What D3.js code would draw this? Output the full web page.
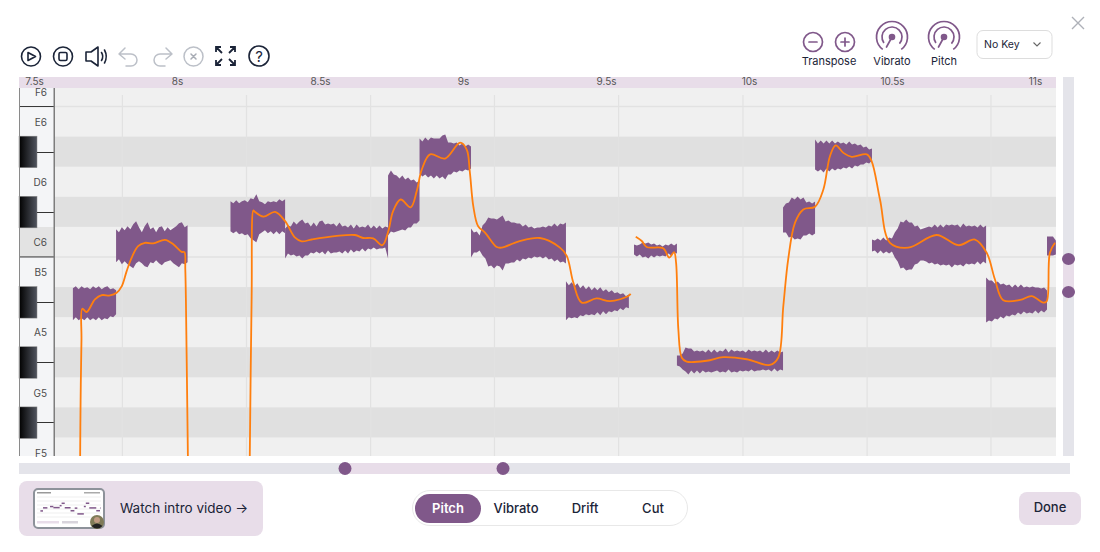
<!DOCTYPE html>
<html><head><meta charset="utf-8">
<style>html,body{margin:0;padding:0;background:#fff}svg{display:block}text{font-family:Inter,"Noto Sans",sans-serif}</style>
<script src="https://cdn.jsdelivr.net/npm/d3@7"></script></head><body>
<svg id="c" width="1100" height="552"></svg>
<script>
// ---------- DATA ----------
const timeTicks = [7.5,8,8.5,9,9.5,10,10.5,11];
const beatGrid = [7.809,8.243,8.677,9.110,9.544,9.979,10.413,10.846];
const blackKeys = [87,85,82,80,78];
const noteLabels = [[89,"F6"],[88,"E6"],[86,"D6"],[84,"C6"],[83,"B5"],[81,"A5"],[79,"G5"],[77,"F5"]];
const rowLines = [88.5,83.5];

const noteStarts = [7.636,7.787,8.187,8.378,8.738,8.848,9.028,9.360,9.598,9.748,10.119,10.231,10.430,10.829,11.042];
const noteEnds   = [7.787,8.037,8.378,8.738,8.848,9.028,9.360,9.580,9.748,10.119,10.231,10.430,10.829,11.042,11.073];
const noteCentres= [81.96,83.92,84.75,84.08,85.31,86.84,83.98,82.06,83.75,80.06,84.78,86.87,83.88,82.09,83.85];
// waveform envelope, percent of full scale, above and below the note centre
const envelopeUp = [
[15,17,14,17,15,16,14,17,15,17,14,16,17,14,15,13],
[15,12,17,14,18,15,20,23,17,12,18,22,15,17,12,17,18,13,17,14,16,18,21,22,17,19],
[18,16,19,16,18,19,17,21,20,25,18,17,15,18,17,18,17,20,18,20],
[11,14,13,18,15,18,20,16,17,13,17,13,18,19,15,16,15,16,13,17,13,14,12,15,11,15,12,13,12,15,11,14,11,14,11,13,12],
[27,32,28,27,24,27,23,25,22,23,20,22],
[18,15,19,16,19,18,18,18,21,22,14,14,13,14,11,13,10,12,10],
[14,10,11,7,17,20,25,24,24,23,25,27,21,22,20,20,19,19,16,18,15,16,14,15,15,16,15,17,16,19,16,19,18,20],
[19,15,18,14,17,12,15,11,14,10,13,10,13,9,11,8,10,7,8,6,7,4,6],
[5,4,5,7,6,7,5,6,4,5,3,5,4,6,4,6],
[5,5,7,13,12,12,9,10,9,10,8,11,8,11,8,10,9,12,8,11,9,10,9,10,8,11,9,10,9,10,8,11,8,10,8,10,8,9],
[11,15,16,21,19,22,19,21,16,17,15,17],
[16,12,15,12,15,12,15,12,14,12,13,11,14,11,12,10,11,8,9,6,7],
[6,5,7,5,8,5,8,7,13,17,24,23,26,23,23,19,20,16,17,18,19,18,21,18,21,18,21,20,21,20,21,18,22,19,20,19,20,18,21,18,20],
[22,19,19,16,18,15,16,14,15,12,15,12,15,12,13,12,13,12,12,11,12,9],
[10,10,10,6]];
const envelopeDown = [
[17,14,17,15,17,14,17,15,17,14,17,15,16,13,14,11],
[18,15,20,17,20,22,24,19,17,19,22,23,18,19,16,19,21,18,17,16,19,21,23,19,20,18],
[12,14,12,15,14,16,15,19,21,23,15,13,11,14,12,15,12,15,12,14],
[19,14,16,15,17,16,19,16,16,13,14,12,14,12,15,11,14,13,13,12,14,11,14,10,13,11,12,9,12,9,10,8,10,9,9,8,19],
[33,29,30,29,28,27,28,25,25,21,21,18],
[17,20,18,21,19,22,19,22,20,23,18,18,15,16,14,15,13,14,12],
[15,10,10,8,13,16,24,23,26,23,24,28,21,21,20,20,17,19,16,17,15,16,14,15,14,16,14,17,16,19,17,20,19,21],
[20,17,18,17,18,15,16,14,15,14,15,12,15,11,14,11,12,10,11,8,10,7,8],
[5,7,5,8,7,9,6,8,6,7,6,7,4,6,3,4],
[5,6,9,11,14,10,13,10,13,10,12,11,12,11,10,12,11,12,9,12,11,12,10,11,10,11,9,11,10,10,9,10,9,11,8,11,9,10],
[14,14,19,18,21,20,21,17,17,15,17,15],
[14,16,14,17,13,16,13,15,13,14,12,13,11,13,10,11,9,9,7,8,5],
[6,5,8,5,8,6,8,6,12,16,23,22,25,24,24,19,18,15,15,16,18,17,19,18,20,19,20,19,22,19,20,19,21,18,19,18,19,16,19,16,18],
[23,21,22,19,20,17,19,16,17,15,16,13,15,12,14,13,14,11,14,11,13,10],
[9,9,9,8]];

const pitchTimesA = [7.661,7.663,7.666,7.669,7.684,7.713,7.737,7.766,7.789,7.807,7.824,7.842,7.864,7.888,7.917,7.958,7.987,8.016,8.026,8.029,8.034,8.038,8.039];
const pitchMidiA  = [76.44,78.77,80.76,81.78,81.67,82.09,82.23,82.22,82.31,82.53,83.03,83.49,83.86,83.97,83.95,84.07,83.92,83.67,83.66,83.09,80.0,76.94,76.44];
const pitchTimesB = [8.254,8.261,8.267,8.271,8.302,8.343,8.378,8.413,8.436,8.471,8.552,8.622,8.651,8.686,8.718,8.739,8.755,8.782,8.817,8.838,8.856,8.885,8.937,8.990,9.013,9.024,9.036,9.053,9.077,9.118,9.135,9.193,9.269,9.339,9.363,9.386,9.415,9.467,9.514,9.578,9.586];
const pitchMidiB  = [76.44,82.19,85.05,85.01,84.84,85.00,84.69,84.14,84.02,84.08,84.19,84.23,84.13,84.12,83.89,84.36,85.01,85.41,85.15,85.68,86.41,86.91,86.77,87.30,87.07,86.31,85.19,84.52,84.31,83.83,83.81,84.01,84.13,83.81,83.53,82.64,81.98,82.12,82.03,82.20,82.28];
const pitchTimesC = [9.604,9.625,9.642,9.700,9.721,9.738,9.745,9.753,9.765,9.782,9.852,9.910,9.992,10.073,10.102,10.120,10.137,10.161,10.190,10.231,10.260,10.283,10.303,10.330,10.359,10.412,10.429,10.458,10.493,10.557,10.656,10.732,10.790,10.831,10.860,10.889,10.948,10.988,11.029,11.041,11.052,11.070];
const pitchMidiC  = [84.17,84.03,83.83,83.79,83.48,83.66,83.31,81.09,80.15,80.02,80.05,80.17,80.10,79.91,80.15,81.87,83.42,84.64,85.08,85.17,85.74,86.85,87.21,86.96,86.83,86.91,86.68,85.41,83.97,83.81,84.23,83.89,84.08,83.64,82.75,82.06,82.07,82.20,81.98,82.03,83.64,83.97];

const modeLabels = ["Pitch","Vibrato","Drift","Cut"];
const transposeLabels = ["Transpose","Vibrato","Pitch"];

// ---------- COLOURS ----------
const PURPLE="#80588a", LILAC="#e8dde9", TRACK="#e4e4ea", INK="#1b2438", ORANGE="#ff7f0e";

// ---------- SCALES ----------
const x = d3.scaleLinear([7.5,11],[34,1035]);
const y = d3.scaleLinear([77,89],[452.5,91.5]);
const amp = d3.scaleLinear([-50,50],[50,-50]);
const P = {l:55,r:1056,t:88,b:456};

const svg = d3.select("#c");
const defs = svg.append("defs");
defs.append("clipPath").attr("id","plot").append("rect").attr("x",P.l).attr("y",P.t).attr("width",P.r-P.l).attr("height",P.b-P.t);
const grad = defs.append("linearGradient").attr("id","blk");
grad.append("stop").attr("offset",0).attr("stop-color","#000");
grad.append("stop").attr("offset",1).attr("stop-color","#50545e");

// header band
svg.append("rect").attr("x",19).attr("y",77).attr("width",1037).attr("height",11).attr("fill",LILAC);
// piano
const pk = svg.append("g");
pk.append("rect").attr("x",19).attr("y",P.t).attr("width",36).attr("height",P.b-P.t).attr("fill","#f4f5f7");
pk.append("path").attr("d",`M37 ${y(84.5)}H55V${y(83.5)}H19V${y(84)-15}H37Z`).attr("fill","#e3e3e3");
// plot background
svg.append("rect").attr("x",P.l).attr("y",P.t).attr("width",P.r-P.l).attr("height",P.b-P.t).attr("fill","#f0f0f0");
const plot = svg.append("g").attr("clip-path","url(#plot)");
plot.selectAll(".band").data(blackKeys).join("rect").attr("x",P.l).attr("width",P.r-P.l)
  .attr("y",d=>y(d+.5)).attr("height",d=>y(d-.5)-y(d+.5)).attr("fill","#e0e0e0");
plot.selectAll(".hl").data(rowLines).join("line").attr("x1",P.l).attr("x2",P.r)
  .attr("y1",d=>y(d)).attr("y2",d=>y(d)).attr("stroke","#e2e2e2").attr("stroke-width",1.5);
plot.selectAll(".vl").data(beatGrid).join("line").attr("x1",d=>x(d)).attr("x2",d=>x(d))
  .attr("y1",95).attr("y2",P.b).attr("stroke","#e2e2e2").attr("stroke-width",1.2);

// waveform
const area = d3.area().x(d=>d.x).y0(d=>d.y0).y1(d=>d.y1);
plot.selectAll(".wave").data(noteStarts.map((s,i)=>i)).join("path").attr("fill",PURPLE).attr("d",i=>{
  const up=envelopeUp[i],dn=envelopeDown[i],n=Math.min(up.length,dn.length);
  const tx=d3.scaleLinear([0,n-1],[noteStarts[i],noteEnds[i]]);
  return area(d3.range(n).map(k=>({x:x(tx(k)),y1:y(noteCentres[i])+amp(up[k]),y0:y(noteCentres[i])+amp(-dn[k])})));
});
// pitch curve
const line = d3.line().curve(d3.curveCatmullRom.alpha(.5)).x(d=>x(d[0])).y(d=>y(d[1]));
[[pitchTimesA,pitchMidiA],[pitchTimesB,pitchMidiB],[pitchTimesC,pitchMidiC]].forEach(([t,m])=>{
  plot.append("path").attr("d",line(d3.zip(t,m))).attr("fill","none").attr("stroke",ORANGE).attr("stroke-width",1.8);
});

// piano keys drawn over
pk.selectAll(".bk").data(blackKeys).join("rect").attr("x",19).attr("width",18)
  .attr("y",d=>y(d)-15.5).attr("height",31.5).attr("fill","url(#blk)").attr("stroke","#888").attr("stroke-width",.5);
pk.selectAll(".bl").data(blackKeys).join("line").attr("x1",37).attr("x2",55)
  .attr("y1",d=>Math.round(y(d))+.5).attr("y2",d=>Math.round(y(d))+.5).attr("stroke","#333").attr("stroke-width",1);
pk.selectAll(".wl").data(rowLines).join("line").attr("x1",19).attr("x2",55)
  .attr("y1",d=>y(d)).attr("y2",d=>y(d)).attr("stroke","#333").attr("stroke-width",1);
pk.append("line").attr("x1",19.5).attr("x2",19.5).attr("y1",P.t).attr("y2",P.b).attr("stroke","#8a8a8a");
pk.append("line").attr("x1",54.5).attr("x2",54.5).attr("y1",P.t).attr("y2",P.b).attr("stroke","#7d7d7d").attr("stroke-width",2);

// key names (axis)
const noteName = new Map(noteLabels);
const ay = d3.axisLeft(y).tickValues(noteLabels.map(d=>d[0])).tickSize(0).tickPadding(0).tickFormat(d=>noteName.get(d));
const gy = svg.append("g").attr("transform","translate(47,0.5)").call(ay);
gy.select(".domain").remove();
gy.selectAll("text").attr("font-size",10).attr("fill","#4c4c4c").attr("font-family","Inter,sans-serif");

// time axis
const ax = d3.axisBottom(x).tickValues(timeTicks).tickSize(0).tickPadding(0).tickFormat(d=>d+"s");
const gx = svg.append("g").attr("transform","translate(0,77)").call(ax);
gx.select(".domain").remove();
gx.selectAll("text").attr("font-size",10).attr("fill","#555").attr("font-family","Inter,sans-serif").attr("dy","0.82em");

// scrollbars
svg.append("rect").attr("x",1063).attr("y",77).attr("width",11).attr("height",379).attr("fill",TRACK);
svg.append("rect").attr("x",1063).attr("y",259).attr("width",11).attr("height",33).attr("fill",LILAC);
[259,292].forEach(v=>svg.append("ellipse").attr("cx",1068.5).attr("cy",v).attr("rx",6.5).attr("ry",6).attr("fill",PURPLE));
svg.append("rect").attr("x",19).attr("y",463).attr("width",1051).attr("height",11).attr("fill",TRACK);
svg.append("rect").attr("x",345).attr("y",463).attr("width",158).attr("height",11).attr("fill",LILAC);
[345,503].forEach(v=>svg.append("ellipse").attr("cx",v).attr("cy",468.5).attr("rx",6.5).attr("ry",6.5).attr("fill",PURPLE));

// toolbar icons
const tb = svg.append("g").attr("fill","none").attr("stroke",INK).attr("stroke-width",1.6).attr("stroke-linecap","round").attr("stroke-linejoin","round");
tb.append("circle").attr("cx",31).attr("cy",56.5).attr("r",9.5);
tb.append("path").attr("d","M28 52.5L35.5 56.5L28 60.5Z");
tb.append("circle").attr("cx",63).attr("cy",56.5).attr("r",9.5);
tb.append("rect").attr("x",59).attr("y",52.5).attr("width",8).attr("height",8).attr("rx",1.5);
tb.append("path").attr("d","M86 52H91L98 47V66L91 61H86Z");
tb.append("path").attr("d","M101.5 52.5Q104 56.5 101.5 60.5M104.5 50Q108 56.5 104.5 63");
const g2 = svg.append("g").attr("fill","none").attr("stroke","#bcc0c8").attr("stroke-width",1.5).attr("stroke-linecap","round").attr("stroke-linejoin","round");
g2.append("path").attr("d","M125 48L119 54L125 59M119 54H131A6 6 0 0 1 131 66H126");
g2.append("path").attr("d","M166 48L172 54L166 59M172 54H160A6 6 0 0 0 160 66H165");
g2.append("circle").attr("cx",193.5).attr("cy",56.5).attr("r",9.5);
g2.append("path").attr("d","M191 54L196 59M196 54L191 59").attr("stroke","#a8acb5");
const fs = svg.append("g").attr("fill","none").attr("stroke",INK).attr("stroke-width",1.8);
fs.append("path").attr("d","M216 52V47H221M216 47L222 53M235 52V47H230M235 47L229 53M216 60V65H221M216 65L222 59M235 60V65H230M235 65L229 59");
tb.append("circle").attr("cx",259).attr("cy",56).attr("r",10);
svg.append("text").attr("x",259).attr("y",61.5).attr("text-anchor","middle").attr("font-size",15).attr("fill",INK).text("?");

// right controls
const rc = svg.append("g").attr("fill","none").attr("stroke",PURPLE).attr("stroke-width",1.7).attr("stroke-linecap","round");
rc.append("circle").attr("cx",813).attr("cy",42).attr("r",9.5);
rc.append("path").attr("d","M809 42H817");
rc.append("circle").attr("cx",845).attr("cy",42).attr("r",9.5);
rc.append("path").attr("d","M841 42H849M845 38V46");
const arcG = d3.arc();
[892,944].forEach(cx=>{
  const k = rc.append("g").attr("transform",`translate(${cx},37)`);
  k.append("path").attr("d",arcG({innerRadius:15.5,outerRadius:15.5,startAngle:-2.5,endAngle:2.5}));
  k.append("path").attr("d",arcG({innerRadius:10,outerRadius:10,startAngle:-2.2,endAngle:2.3}));
  k.append("path").attr("d","M0 0L-5.5 10");
  k.append("circle").attr("r",3.3).attr("fill",PURPLE).attr("stroke","none");
});
transposeLabels.forEach((t,i)=>svg.append("text").attr("x",[829,892,944][i]).attr("y",65).attr("text-anchor","middle").attr("font-size",11).attr("fill",INK).text(t));
svg.append("rect").attr("x",977).attr("y",30.5).attr("width",75).attr("height",28).attr("rx",6).attr("fill","#fff").attr("stroke","#ddd");
svg.append("text").attr("x",984).attr("y",48).attr("font-size",10.5).attr("fill",INK).text("No Key");
svg.append("path").attr("d","M1033.5 42.5L1037 46L1040.5 42.5").attr("fill","none").attr("stroke","#666").attr("stroke-width",1.1);
svg.append("path").attr("d","M1072 17L1084 29M1084 17L1072 29").attr("stroke","#aeb1b8").attr("stroke-width",1.4);

// video card
svg.append("rect").attr("x",19).attr("y",481).attr("width",244).attr("height",55).attr("rx",8).attr("fill",LILAC);
svg.append("rect").attr("x",34).attr("y",489).attr("width",70).attr("height",39).attr("rx",4).attr("fill","#fff").attr("stroke","#8d929a").attr("stroke-width",2);
const tx2=d3.scaleLinear([7.5,11.1],[38,101]), ty2=d3.scaleLinear([77,89],[518.7,499.9]);
const th = svg.append("g");
d3.range(0,6).forEach(i=>th.append("line").attr("x1",37).attr("x2",101).attr("y1",497+i*4).attr("y2",497+i*4).attr("stroke","#e8e8e8").attr("stroke-width",.7));
th.append("rect").attr("x",37).attr("y",492).attr("width",14).attr("height",1.5).attr("fill","#999");
th.append("rect").attr("x",84).attr("y",492).attr("width",16).attr("height",1.5).attr("fill","#aaa");
noteStarts.forEach((s,i)=>th.append("line").attr("x1",tx2(s)).attr("x2",tx2(noteEnds[i])).attr("y1",ty2(noteCentres[i])).attr("y2",ty2(noteCentres[i])).attr("stroke",PURPLE).attr("stroke-width",1.5));
th.append("rect").attr("x",37).attr("y",521).attr("width",22).attr("height",2.5).attr("fill",LILAC);
th.append("rect").attr("x",62).attr("y",521).attr("width",16).attr("height",2.5).attr("fill","#d8d4dc");
th.append("circle").attr("cx",97).attr("cy",522).attr("r",7).attr("fill","#7f7b58");
th.append("circle").attr("cx",97).attr("cy",520).attr("r",3).attr("fill","#c09a82");
th.append("path").attr("d","M91.5 526Q97 521 102.5 526Q97 531 91.5 526Z").attr("fill","#222");
svg.append("text").attr("x",120).attr("y",513).attr("font-size",13.5).attr("fill",INK).text("Watch intro video →");

// mode switch
svg.append("rect").attr("x",412.5).attr("y",490.5).attr("width",275).attr("height",35).attr("rx",17.5).attr("fill","#fff").attr("stroke","#e8e8e8");
svg.append("rect").attr("x",415).attr("y",494).attr("width",66).attr("height",29).attr("rx",14.5).attr("fill",PURPLE);
modeLabels.forEach((t,i)=>svg.append("text").attr("x",[448,516,585,653][i]).attr("y",513).attr("text-anchor","middle").attr("font-size",13).attr("font-weight",i?500:600).attr("fill",i?INK:"#fff").text(t));

// done
svg.append("rect").attr("x",1019).attr("y",492).attr("width",62).attr("height",33).attr("rx",8).attr("fill",LILAC);
svg.append("text").attr("x",1050).attr("y",512).attr("text-anchor","middle").attr("font-size",13).attr("font-weight",500).attr("fill",INK).text("Done");
</script></body></html>
